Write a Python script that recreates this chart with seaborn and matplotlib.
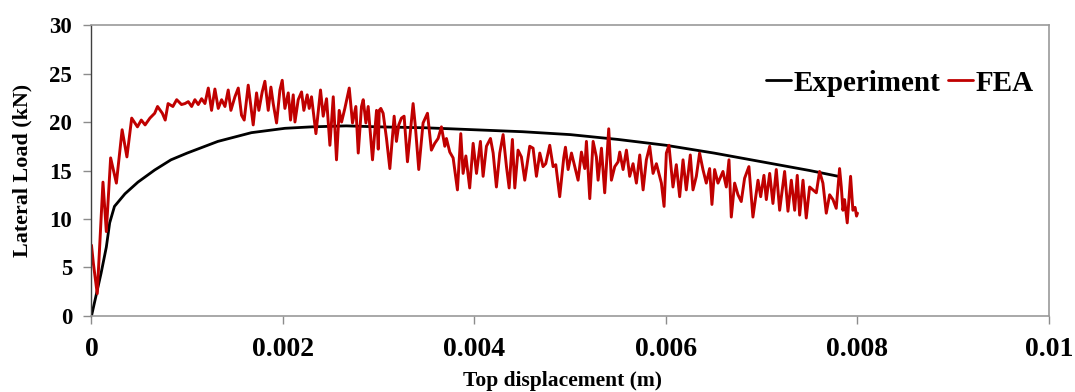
import numpy as np
import pandas as pd
import matplotlib
matplotlib.use("Agg")
import matplotlib.pyplot as plt
import seaborn as sns

# ---------------- data ----------------
exp_disp_mm = [0, 0.05, 0.10, 0.155, 0.19, 0.24, 0.35, 0.485, 0.66, 0.83, 1.0,
               1.32, 1.67, 2.02, 2.3, 2.66, 3.0, 3.5, 4.0, 4.5, 5.0, 5.5, 6.0,
               6.5, 7.0, 7.5, 7.8]
exp_load = [0, 2.2, 4.4, 7.1, 9.6, 11.3, 12.6, 13.8, 15.05, 16.1, 16.8,
            18.0, 18.9, 19.35, 19.5, 19.6, 19.5, 19.4, 19.2, 19.0, 18.7, 18.2, 17.6,
            16.8, 15.9, 15.0, 14.4]

fea_disp_mm = [
    0.000, 0.020, 0.060, 0.120, 0.155, 0.200, 0.260, 0.320, 0.370, 0.420,
    0.480, 0.520, 0.560, 0.610, 0.660, 0.690, 0.740, 0.770, 0.800, 0.850,
    0.890, 0.940, 0.976, 1.011, 1.046, 1.080, 1.115, 1.150, 1.185, 1.220,
    1.254, 1.289, 1.324, 1.359, 1.394, 1.428, 1.456, 1.498, 1.533, 1.567,
    1.595, 1.637, 1.665, 1.689, 1.724, 1.748, 1.783, 1.811, 1.846, 1.874,
    1.898, 1.933, 1.968, 1.992, 2.020, 2.055, 2.079, 2.107, 2.125, 2.159,
    2.194, 2.218, 2.253, 2.274, 2.298, 2.316, 2.344, 2.392, 2.420, 2.455,
    2.490, 2.525, 2.559, 2.587, 2.612, 2.646, 2.692, 2.726, 2.761, 2.786,
    2.820, 2.838, 2.866, 2.890, 2.907, 2.935, 2.977, 2.995, 3.005, 3.022,
    3.046, 3.081, 3.116, 3.161, 3.185, 3.209, 3.237, 3.265, 3.300, 3.359,
    3.383, 3.418, 3.463, 3.509, 3.550, 3.585, 3.620, 3.655, 3.690, 3.707,
    3.742, 3.777, 3.822, 3.857, 3.881, 3.910, 3.950, 3.986, 4.021, 4.062,
    4.090, 4.125, 4.167, 4.195, 4.229, 4.264, 4.299, 4.334, 4.362, 4.396,
    4.421, 4.455, 4.490, 4.525, 4.577, 4.612, 4.647, 4.682, 4.716, 4.744,
    4.786, 4.821, 4.849, 4.890, 4.932, 4.950, 4.978, 5.013, 5.047, 5.082,
    5.117, 5.152, 5.169, 5.204, 5.239, 5.273, 5.291, 5.326, 5.360, 5.402,
    5.430, 5.465, 5.500, 5.517, 5.552, 5.587, 5.621, 5.656, 5.691, 5.726,
    5.761, 5.795, 5.830, 5.865, 5.900, 5.952, 5.980, 6.004, 6.031, 6.073,
    6.108, 6.143, 6.178, 6.212, 6.254, 6.282, 6.317, 6.351, 6.386, 6.421,
    6.456, 6.480, 6.508, 6.543, 6.595, 6.630, 6.658, 6.682, 6.717, 6.752,
    6.786, 6.821, 6.866, 6.908, 6.961, 6.989, 7.023, 7.048, 7.083, 7.117,
    7.152, 7.187, 7.239, 7.274, 7.309, 7.344, 7.371, 7.396, 7.431, 7.465,
    7.500, 7.535, 7.570, 7.604, 7.639, 7.674, 7.709, 7.744, 7.778, 7.813,
    7.831, 7.848, 7.865, 7.893, 7.928, 7.952, 7.975, 7.990, 8.000]
fea_load = [
    7.3, 5.4, 2.3, 13.8, 8.7, 16.3, 13.7, 19.2, 16.4, 20.4,
    19.5, 20.2, 19.7, 20.4, 20.9, 21.6, 20.9, 20.2, 21.9, 21.6,
    22.3, 21.8, 21.9, 22.1, 21.6, 22.3, 21.8, 22.4, 21.9, 23.5,
    21.2, 23.4, 21.4, 22.3, 21.6, 23.3, 21.2, 22.6, 23.5, 20.7,
    20.2, 23.8, 21.6, 19.7, 23.0, 21.2, 23.1, 24.2, 21.2, 23.6,
    21.9, 19.9, 23.3, 24.3, 21.4, 23.0, 20.2, 22.8, 20.0, 22.3,
    23.1, 21.2, 22.8, 21.4, 22.6, 21.1, 18.8, 23.3, 20.6, 22.4,
    17.6, 22.6, 16.1, 21.2, 20.0, 21.4, 23.5, 19.9, 21.6, 16.8,
    21.6, 22.3, 19.9, 21.6, 19.5, 16.1, 21.2, 17.2, 21.2, 21.4,
    20.9, 18.3, 15.2, 20.6, 18.0, 19.7, 20.4, 20.6, 15.9, 21.9,
    19.5, 15.1, 19.9, 20.9, 17.1, 17.8, 18.3, 19.5, 17.5, 18.3,
    16.9, 16.3, 13.0, 18.8, 14.7, 16.5, 13.2, 17.8, 14.7, 18.0,
    14.4, 17.5, 18.3, 16.8, 13.3, 16.8, 18.7, 15.4, 13.2, 18.2,
    13.2, 17.1, 16.4, 14.0, 17.5, 17.3, 14.4, 16.8, 15.4, 15.7,
    17.6, 15.4, 15.6, 12.3, 16.3, 17.4, 15.1, 16.8, 15.4, 14.0,
    16.9, 15.2, 18.0, 12.1, 18.0, 16.4, 14.0, 17.3, 12.7, 19.3,
    14.0, 15.4, 15.9, 16.9, 15.1, 17.1, 14.4, 15.7, 13.7, 16.6,
    13.0, 16.1, 17.5, 14.7, 15.7, 13.7, 11.3, 16.8, 17.6, 13.3,
    15.6, 12.3, 16.1, 13.0, 16.6, 13.0, 14.4, 16.8, 15.1, 13.7,
    15.2, 11.5, 15.1, 13.7, 14.9, 13.3, 16.1, 10.2, 13.7, 12.5,
    11.8, 14.2, 15.4, 10.2, 14.0, 12.3, 14.5, 12.0, 14.7, 11.6,
    15.1, 10.9, 14.9, 10.8, 14.0, 10.9, 14.5, 10.4, 14.0, 10.1,
    13.3, 13.0, 12.7, 14.9, 13.7, 10.6, 12.5, 12.0, 11.1, 15.2,
    13.3, 10.9, 12.0, 9.6, 14.4, 10.9, 11.2, 10.3, 10.6]

x_ticks = [0, 0.002, 0.004, 0.006, 0.008, 0.01]
x_tick_labels = ["0", "0.002", "0.004", "0.006", "0.008", "0.01"]
y_ticks = [0, 5, 10, 15, 20, 25, 30]
series_names = ["Experiment", "FEA"]
series_colors = ["#000000", "#C00000"]

# ---------------- plotting ----------------
sns.set_theme(style="white")
plt.rcParams["font.family"] = ["Liberation Serif", "DejaVu Serif"]
plt.rcParams["font.weight"] = "bold"
plt.rcParams["text.color"] = "black"
plt.rcParams["axes.labelcolor"] = "black"
plt.rcParams["xtick.color"] = "black"
plt.rcParams["ytick.color"] = "black"

exp_df = pd.DataFrame({"disp": np.array(exp_disp_mm) / 1000.0, "load": exp_load})
fea_df = pd.DataFrame({"disp": np.array(fea_disp_mm) / 1000.0, "load": fea_load})

fig = plt.figure(figsize=(10.75, 3.92), dpi=100)
ax = fig.add_axes([0.0851, 0.1939, 0.8907, 0.7423])

sns.lineplot(data=exp_df, x="disp", y="load", ax=ax, color=series_colors[0],
             linewidth=2.0, sort=False, estimator=None, label=series_names[0])
sns.lineplot(data=fea_df, x="disp", y="load", ax=ax, color=series_colors[1],
             linewidth=2.1, sort=False, estimator=None, label=series_names[1])

ax.set_xlim(0, 0.01)
ax.set_ylim(0, 30)
ax.set_xticks(x_ticks)
ax.set_xticklabels(x_tick_labels, fontsize=20, fontweight="bold")
ax.set_yticks(y_ticks)
ax.set_yticklabels([str(v) for v in y_ticks], fontsize=16.5, fontweight="bold")

ax.tick_params(axis="x", direction="out", length=6, width=1, color="#8c8c8c",
               labelcolor="black", pad=9, bottom=True)
ax.tick_params(axis="y", direction="out", length=6, width=1, color="#8c8c8c",
               labelcolor="black", pad=8, left=True)

for side in ["top", "right", "bottom"]:
    ax.spines[side].set_color("#9a9a9a")
    ax.spines[side].set_linewidth(1.2)
ax.spines["left"].set_color("#404040")
ax.spines["left"].set_linewidth(1.0)

ax.set_xlabel("Top displacement (m)", fontsize=15.5, fontweight="bold", color="black")
ax.xaxis.set_label_coords(0.492, -0.19)
ax.set_ylabel("Lateral Load (kN)", fontsize=15.8, fontweight="bold", color="black",
              labelpad=12)

leg = ax.legend(loc="center right", bbox_to_anchor=(0.984, 0.80), ncol=2,
                frameon=False, fontsize=21, handlelength=0.85,
                handletextpad=0.1, columnspacing=0.25, borderpad=0,
                borderaxespad=0)
for t in leg.get_texts():
    t.set_fontweight("bold")
    t.set_color("black")
for line in leg.get_lines():
    line.set_linewidth(2.0)

ax.grid(False)
fig.savefig("out.png", dpi=100, facecolor="white")
